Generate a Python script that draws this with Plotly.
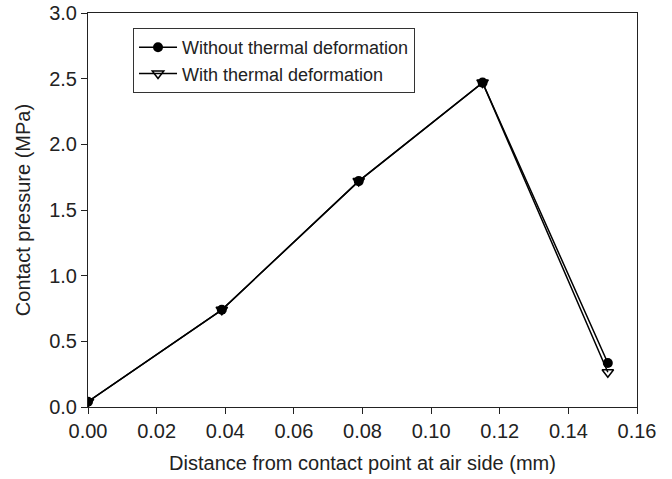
import plotly.graph_objects as go

x_without = [0.0, 0.039, 0.0789, 0.115, 0.1515]
y_without = [0.04, 0.74, 1.72, 2.47, 0.335]
x_with = [0.0, 0.039, 0.0789, 0.115, 0.1515]
y_with = [0.04, 0.74, 1.72, 2.47, 0.265]
names = ["Without thermal deformation", "With thermal deformation"]
x_ticks = [0.00, 0.02, 0.04, 0.06, 0.08, 0.10, 0.12, 0.14, 0.16]
y_ticks = [0.0, 0.5, 1.0, 1.5, 2.0, 2.5, 3.0]

fig = go.Figure()
fig.add_trace(go.Scatter(
    x=x_without, y=y_without, name=names[0], mode="lines+markers",
    line=dict(color="black", width=1.5),
    marker=dict(symbol="circle", size=10, color="black"),
))
fig.add_trace(go.Scatter(
    x=x_with, y=y_with, name=names[1], mode="lines+markers",
    line=dict(color="black", width=1.5),
    marker=dict(symbol="triangle-down-open", size=10, color="black", line=dict(width=1.5)),
))

axis_font = dict(family="Liberation Sans, Arial, sans-serif", size=20, color="#222")
fig.update_layout(
    width=672, height=479,
    margin=dict(l=88, r=35, t=13, b=72),
    paper_bgcolor="white", plot_bgcolor="white",
    font=axis_font,
    showlegend=True,
    legend=dict(
        x=0.082, y=0.962, xanchor="left", yanchor="top",
        bordercolor="#333", borderwidth=1, bgcolor="white",
        font=dict(family="Liberation Sans, Arial, sans-serif", size=18, color="#222"),
        tracegroupgap=0, itemwidth=38,
    ),
    xaxis=dict(
        range=[0, 0.16], tickvals=x_ticks, ticktext=[f"{v:.2f}" for v in x_ticks],
        showline=True, linecolor="#222", linewidth=1, mirror=True,
        ticks="outside", ticklen=6, tickcolor="#222",
        showgrid=False, zeroline=False, automargin=False,
        title=dict(text="Distance from contact point at air side (mm)", font=axis_font, standoff=14),
        tickfont=axis_font,
    ),
    yaxis=dict(
        range=[0, 3.0], tickvals=y_ticks, ticktext=[f"{v:.1f}" for v in y_ticks],
        showline=True, linecolor="#222", linewidth=1, mirror=True,
        ticks="outside", ticklen=6, tickcolor="#222",
        showgrid=False, zeroline=False, automargin=False,
        title=dict(text="Contact pressure (MPa)", font=axis_font, standoff=13),
        tickfont=axis_font,
    ),
)

fig.write_html("out.html")
